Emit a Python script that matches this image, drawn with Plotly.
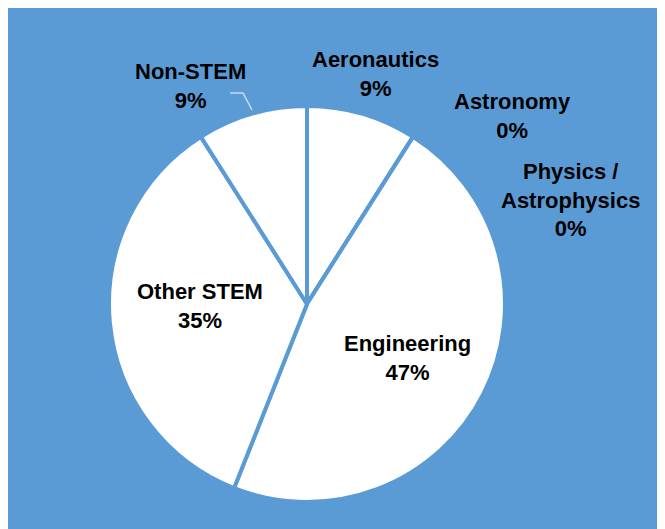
import plotly.graph_objects as go

categories = ["Aeronautics", "Astronomy", "Physics /<br>Astrophysics", "Engineering", "Other STEM", "Non-STEM"]
values = [9, 0, 0, 47, 35, 9]
# label centres in figure pixels (from top-left of the figure)
label_pos = {"Aeronautics": (367, 66), "Astronomy": (504, 108),
             "Physics /<br>Astrophysics": (562, 192), "Engineering": (399, 350),
             "Other STEM": (192, 298), "Non-STEM": (182, 78)}

BLUE = "#5B9BD5"
W, H = 665, 529
FONT = dict(family="Liberation Sans, Arial, sans-serif", size=22, color="black", weight="bold")

total = sum(values)

fig = go.Figure(go.Pie(
    labels=categories,
    values=values,
    sort=False,
    direction="clockwise",
    rotation=0,
    marker=dict(colors=["white"] * len(values), line=dict(color=BLUE, width=4)),
    textinfo="none",
    automargin=False,
    showlegend=False,
    domain=dict(x=[101 / W, 497 / W], y=[35 / H, 431 / H]),
    hoverinfo="label+percent",
))

annotations = []
for c, v in zip(categories, values):
    px, py = label_pos[c]
    annotations.append(dict(text=f"{c}<br>{round(v / total * 100)}%", x=px / W, y=1 - py / H,
                            xref="paper", yref="paper", showarrow=False, font=FONT,
                            xanchor="center", yanchor="middle"))

fig.update_layout(
    width=W, height=H,
    margin=dict(l=0, r=0, t=0, b=0, autoexpand=False),
    paper_bgcolor=BLUE,
    annotations=annotations,
    shapes=[
        # leader line for Non-STEM label
        dict(type="path", xref="paper", yref="paper",
             path=f"M {222 / W} {1 - 85 / H} L {235 / W} {1 - 85 / H} L {244 / W} {1 - 102 / H}",
             line=dict(color="#C9DCEF", width=1.5)),
    ],
)

fig.write_html("out.html")
